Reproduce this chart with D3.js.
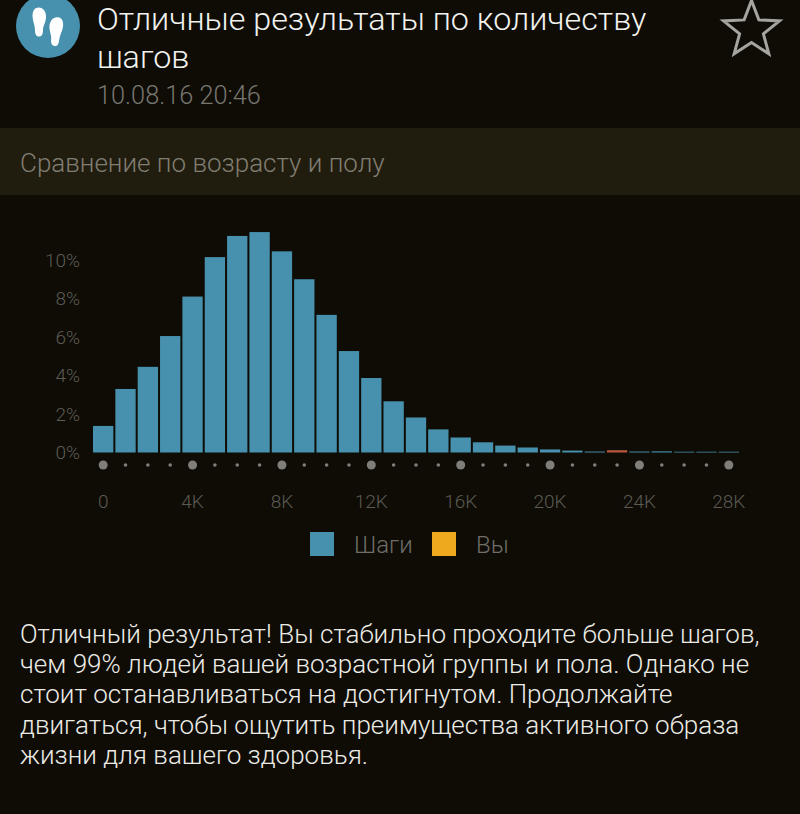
<!DOCTYPE html>
<html>
<head>
<meta charset="utf-8">
<script src="https://d3js.org/d3.v7.min.js"></script>
<style>
  html, body { margin: 0; padding: 0; background: #0e0c05; }
  svg { display: block; }
  text { font-family: Roboto, sans-serif; font-weight: 300; }
</style>
</head>
<body>
<div id="chart"></div>
<script>
// Values
const bins = d3.range(0, 29)
const steps = [1.38, 3.3, 4.45, 6.05, 8.1, 10.15, 11.25, 11.45, 10.45, 9.0, 7.15, 5.27, 3.87, 2.66, 1.82, 1.2, 0.78, 0.53, 0.36, 0.26, 0.16, 0.1, 0.05, 0.12, 0.05, 0.06, 0.04, 0.04, 0.04]
const yourBin = 23
const yTicks = [0, 2, 4, 6, 8, 10]
const xTicks = [0, 4, 8, 12, 16, 20, 24, 28]
const legendNames = ["Шаги", "Вы"]
const bodyLines = [
  "Отличный результат! Вы стабильно проходите больше шагов,",
  "чем 99% людей вашей возрастной группы и пола. Однако не",
  "стоит останавливаться на достигнутом. Продолжайте",
  "двигаться, чтобы ощутить преимущества активного образа",
  "жизни для вашего здоровья."
]

const svgWidth = 800
const svgHeight = 814

let svg = d3
  .select("#chart")
  .append("svg")
  .attr("width", svgWidth)
  .attr("height", svgHeight)

svg.append("rect")
  .attr("width", svgWidth)
  .attr("height", svgHeight)
  .attr("fill", "#0e0c05")

// Header: icon, title, star
let icon = svg.append("g").attr("transform", "translate(48, 26)")
icon.append("circle").attr("r", 32).attr("fill", "#4791ae")
const footPath = "M-1,-14.5 C4,-14.5 7,-10 6.5,-4 C6,1 3.5,4 3.5,8 C3.5,12 2.5,14.5 -0.5,14.5 C-3.5,14.5 -4.5,12 -4.5,8 C-4.5,3 -7,-1 -7,-6 C-7,-11 -5,-14.5 -1,-14.5 Z"
icon.append("path").attr("d", footPath).attr("fill", "#fff").attr("transform", "translate(-8.5, -4)")
icon.append("path").attr("d", footPath).attr("fill", "#fff").attr("transform", "translate(7.5, 5.5) scale(-1, 1) rotate(-6)")

svg.append("text").attr("x", 97).attr("y", 30).attr("font-size", 32.25).attr("fill", "#f2f2f0").text("Отличные результаты по количеству")
svg.append("text").attr("x", 97).attr("y", 68).attr("font-size", 32.25).attr("fill", "#f2f2f0").text("шагов")
svg.append("text").attr("x", 97).attr("y", 104).attr("font-size", 25.3).attr("fill", "#77766f").text("10.08.16 20:46")

let starPoints = d3.range(10).map(i => {
  let r = i % 2 ? 12.5 : 29.5
  let a = -Math.PI / 2 + i * Math.PI / 5
  return [751.5 + r * Math.cos(a), 30 + r * Math.sin(a)]
})
svg.append("polygon")
  .attr("points", starPoints.join(" "))
  .attr("fill", "none")
  .attr("stroke", "#a5a49e")
  .attr("stroke-width", 3)

svg.append("rect").attr("x", 0).attr("y", 128).attr("width", svgWidth).attr("height", 67).attr("fill", "#201c0e")
svg.append("text").attr("x", 20).attr("y", 172).attr("font-size", 26).attr("fill", "#807e72").text("Сравнение по возрасту и полу")

// Scales
let x = d3.scaleBand().domain(bins).range([92, 740]).paddingInner(0.09).paddingOuter(0.045)
let y = d3.scaleLinear().domain([0, 10]).range([452.5, 260])

svg.selectAll("rect.bar")
  .data(bins)
  .enter()
  .append("rect")
  .attr("class", "bar")
  .attr("x", d => x(d))
  .attr("width", x.bandwidth())
  .attr("y", d => y(steps[d]))
  .attr("height", d => y(0) - y(steps[d]))
  .attr("fill", d => d === yourBin ? "#b8563a" : "#4791ae")

// Y axis
let leftAxis = d3.axisLeft(y).tickValues(yTicks).tickSize(0).tickPadding(0).tickFormat(d => d + "%")
let yAxis = svg.append("g").attr("transform", "translate(80, 0)").call(leftAxis)
yAxis.select(".domain").remove()
yAxis.selectAll("text").attr("font-size", 19).attr("fill", "#5c5a53").style("font-family", "Roboto, sans-serif")

// Dots under the bars, bigger on the labelled bins
svg.selectAll("circle.dot")
  .data(bins)
  .enter()
  .append("circle")
  .attr("class", "dot")
  .attr("cx", d => x(d) + x.bandwidth() / 2)
  .attr("cy", 465)
  .attr("r", d => d % 4 === 0 ? 4.5 : 1.8)
  .attr("fill", "#7f7e79")

// X axis labels
let bottomAxis = d3.axisBottom(x).tickValues(xTicks).tickSize(0).tickPadding(0).tickFormat(d => d === 0 ? "0" : d + "K")
let xAxis = svg.append("g").attr("transform", "translate(0, 494)").call(bottomAxis)
xAxis.select(".domain").remove()
xAxis.selectAll("text").attr("font-size", 19).attr("fill", "#5c5a53").style("font-family", "Roboto, sans-serif")

// Legend
let legendColors = ["#4791ae", "#efa91f"]
let legendX = [310, 432]
legendNames.forEach((name, i) => {
  svg.append("rect").attr("x", legendX[i]).attr("y", 532).attr("width", 24).attr("height", 24).attr("fill", legendColors[i])
  svg.append("text").attr("x", legendX[i] + 44).attr("y", 553).attr("font-size", 24).attr("fill", "#6f6e68").text(name)
})

// Message under the chart
svg.selectAll("text.body")
  .data(bodyLines)
  .enter()
  .append("text")
  .attr("class", "body")
  .attr("x", 20)
  .attr("y", (d, i) => 643 + i * 30.2)
  .attr("font-size", 26)
  .attr("fill", "#ecebe6")
  .text(d => d)
</script>
</body>
</html>
